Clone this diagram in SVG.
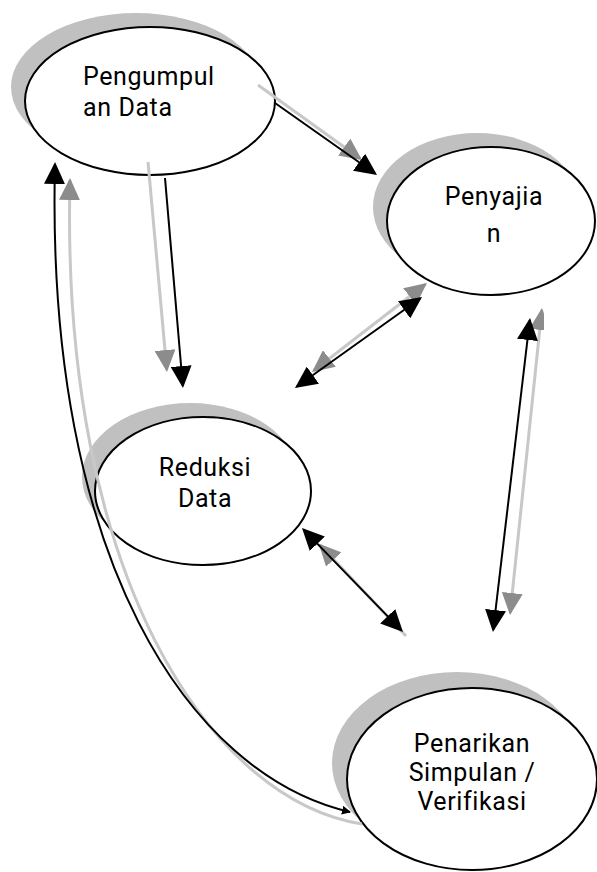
<svg xmlns="http://www.w3.org/2000/svg" width="597" height="872" viewBox="0 0 597 872">
<style>
.sh{fill:#c0c0c0}
.nd{fill:#fff;stroke:#000;stroke-width:2}
.t{font-family:Roboto,"Liberation Sans",sans-serif;font-size:25px;fill:#000;letter-spacing:0.6px}
.m{text-anchor:middle}
.k{fill:none;stroke:#000;stroke-width:2}
.g{fill:none;stroke:#c8c8c8;stroke-width:3}
</style>
<defs>
<marker id="ab" viewBox="0 0 22 21" refX="20" refY="10.5" markerWidth="22" markerHeight="21" markerUnits="userSpaceOnUse" orient="auto-start-reverse"><path d="M0,0L22,10.5L0,21z" fill="#000"/></marker>
<marker id="ag" viewBox="0 0 22 21" refX="20" refY="10.5" markerWidth="22" markerHeight="21" markerUnits="userSpaceOnUse" orient="auto-start-reverse"><path d="M0,0L22,10.5L0,21z" fill="#8c8c8c"/></marker>
<marker id="abs" viewBox="0 0 9 9" refX="8" refY="4.5" markerWidth="9" markerHeight="9" markerUnits="userSpaceOnUse" orient="auto"><path d="M0,0L9,4.5L0,9z" fill="#000"/></marker>
<clipPath id="cr"><rect x="0" y="0" width="544" height="872"/></clipPath>
</defs>
<g id="pengumpulan">
<ellipse class="sh" cx="136" cy="87" rx="125" ry="74"/>
<ellipse class="nd" cx="150" cy="101" rx="125" ry="74"/>
<text class="t" x="83" y="85">Pengumpul</text>
<text class="t" x="83" y="116">an Data</text>
</g>
<g id="penyajian">
<ellipse class="sh" cx="477" cy="207" rx="104" ry="74"/>
<ellipse class="nd" cx="491" cy="221" rx="104" ry="74"/>
<text class="t m" x="494" y="205">Penyajia</text>
<text class="t m" x="494" y="242">n</text>
</g>
<g id="reduksi">
<ellipse class="sh" cx="190" cy="477" rx="108" ry="74"/>
<ellipse class="nd" cx="203" cy="491" rx="108" ry="74"/>
<text class="t m" x="205" y="476">Reduksi</text>
<text class="t m" x="205" y="507">Data</text>
</g>
<g id="penarikan">
<ellipse class="sh" cx="457" cy="763" rx="125" ry="91"/>
<ellipse class="nd" cx="472" cy="779" rx="125" ry="91"/>
<text class="t m" x="472" y="752">Penarikan</text>
<text class="t m" x="472" y="781">Simpulan /</text>
<text class="t m" x="472" y="810">Verifikasi</text>
</g>
<g id="connectors">
<path class="g" d="M258,85L360.4,158.8" marker-end="url(#ag)"/>
<path class="k" d="M275,103L375.4,173.8" marker-end="url(#ab)"/>
<path class="g" d="M148,162L166.8,370" marker-end="url(#ag)"/>
<path class="k" d="M165,178L182.8,386" marker-end="url(#ab)"/>
<path class="g" d="M313.6,370.8L425.4,284.2" marker-start="url(#ag)" marker-end="url(#ag)"/>
<path class="k" d="M296.6,386.8L420.4,298.2" marker-start="url(#ab)" marker-end="url(#ab)"/>
<path class="g" d="M320,545L406,636" marker-start="url(#ag)"/>
<path class="k" d="M303.4,529.4L401.6,630.6" marker-start="url(#ab)" marker-end="url(#ab)"/>
<path class="g" d="M541.8,310L510.2,613" marker-start="url(#ag)" marker-end="url(#ag)" clip-path="url(#cr)"/>
<path class="k" d="M529.8,320L493.2,630" marker-start="url(#ab)" marker-end="url(#ab)"/>
<path class="g" d="M70,180C60,575 210,800 362,824" marker-start="url(#ag)"/>
<path class="k" d="M55,164C45,560 190,775 350,812" marker-start="url(#ab)" marker-end="url(#abs)"/>
</g>
</svg>
